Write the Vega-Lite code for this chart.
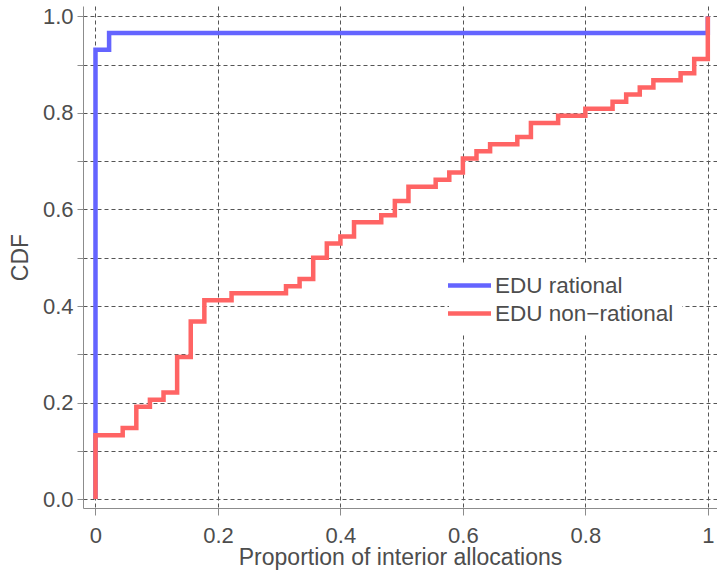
{
  "$schema": "https://vega.github.io/schema/vega-lite/v6.json",
  "width": 634,
  "height": 502,
  "autosize": "none",
  "padding": {"left": 83, "top": 6, "right": 0, "bottom": 62},
  "background": "white",
  "config": {
    "view": {"stroke": null},
    "font": "Liberation Sans",
    "axis": {
      "labelFont": "Liberation Sans",
      "titleFont": "Liberation Sans",
      "labelFontSize": 22,
      "titleFontSize": 23,
      "labelColor": "#4d4d4d",
      "titleColor": "#4d4d4d",
      "titleFontWeight": "normal",
      "domainColor": "#8c8c8c",
      "tickColor": "#8c8c8c",
      "tickSize": 6,
      "gridColor": "#555555",
      "gridDash": [4, 3],
      "gridOpacity": 1,
      "gridWidth": 1
    }
  },
  "datasets": {
    "cdf": [
      {"g": "EDU rational", "i": 0, "x": 0, "y": 0},
      {"g": "EDU rational", "i": 1, "x": 0, "y": 0.93103},
      {"g": "EDU rational", "i": 2, "x": 0.02222, "y": 0.96552},
      {"g": "EDU rational", "i": 3, "x": 1, "y": 1},
      {"g": "EDU non−rational", "i": 0, "x": 0, "y": 0},
      {"g": "EDU non−rational", "i": 1, "x": 0, "y": 0.13235},
      {"g": "EDU non−rational", "i": 2, "x": 0.04444, "y": 0.14706},
      {"g": "EDU non−rational", "i": 3, "x": 0.06667, "y": 0.19118},
      {"g": "EDU non−rational", "i": 4, "x": 0.08889, "y": 0.20588},
      {"g": "EDU non−rational", "i": 5, "x": 0.11111, "y": 0.22059},
      {"g": "EDU non−rational", "i": 6, "x": 0.13333, "y": 0.29412},
      {"g": "EDU non−rational", "i": 7, "x": 0.15556, "y": 0.36765},
      {"g": "EDU non−rational", "i": 8, "x": 0.17778, "y": 0.41176},
      {"g": "EDU non−rational", "i": 9, "x": 0.22222, "y": 0.42647},
      {"g": "EDU non−rational", "i": 10, "x": 0.31111, "y": 0.44118},
      {"g": "EDU non−rational", "i": 11, "x": 0.33333, "y": 0.45588},
      {"g": "EDU non−rational", "i": 12, "x": 0.35556, "y": 0.5},
      {"g": "EDU non−rational", "i": 13, "x": 0.37778, "y": 0.52941},
      {"g": "EDU non−rational", "i": 14, "x": 0.4, "y": 0.54412},
      {"g": "EDU non−rational", "i": 15, "x": 0.42222, "y": 0.57353},
      {"g": "EDU non−rational", "i": 16, "x": 0.46667, "y": 0.58824},
      {"g": "EDU non−rational", "i": 17, "x": 0.48889, "y": 0.61765},
      {"g": "EDU non−rational", "i": 18, "x": 0.51111, "y": 0.64706},
      {"g": "EDU non−rational", "i": 19, "x": 0.55556, "y": 0.66176},
      {"g": "EDU non−rational", "i": 20, "x": 0.57778, "y": 0.67647},
      {"g": "EDU non−rational", "i": 21, "x": 0.6, "y": 0.70588},
      {"g": "EDU non−rational", "i": 22, "x": 0.62222, "y": 0.72059},
      {"g": "EDU non−rational", "i": 23, "x": 0.64444, "y": 0.73529},
      {"g": "EDU non−rational", "i": 24, "x": 0.68889, "y": 0.75},
      {"g": "EDU non−rational", "i": 25, "x": 0.71111, "y": 0.77941},
      {"g": "EDU non−rational", "i": 26, "x": 0.75556, "y": 0.79412},
      {"g": "EDU non−rational", "i": 27, "x": 0.8, "y": 0.80882},
      {"g": "EDU non−rational", "i": 28, "x": 0.84444, "y": 0.82353},
      {"g": "EDU non−rational", "i": 29, "x": 0.86667, "y": 0.83824},
      {"g": "EDU non−rational", "i": 30, "x": 0.88889, "y": 0.85294},
      {"g": "EDU non−rational", "i": 31, "x": 0.91111, "y": 0.86765},
      {"g": "EDU non−rational", "i": 32, "x": 0.95556, "y": 0.88235},
      {"g": "EDU non−rational", "i": 33, "x": 0.97778, "y": 0.91176},
      {"g": "EDU non−rational", "i": 34, "x": 1, "y": 1}
    ]
  },
  "data": {"name": "cdf"},
  "encoding": {
    "x": {
      "field": "x",
      "type": "quantitative",
      "scale": {"domain": [-0.0204, 1.015], "nice": false, "zero": false},
      "axis": {
        "title": "Proportion of interior allocations",
        "values": [0, 0.2, 0.4, 0.6, 0.8, 1],
        "format": "~g",
        "tickSize": 7,
        "labelPadding": 10,
        "titlePadding": 0
      }
    },
    "y": {
      "field": "y",
      "type": "quantitative",
      "scale": {"domain": [-0.0186, 1.0217], "nice": false, "zero": false},
      "axis": {
        "title": "CDF",
        "values": [0, 0.1, 0.2, 0.3, 0.4, 0.5, 0.6, 0.7, 0.8, 0.9, 1],
        "labelExpr": "round(datum.value * 10) % 2 == 0 ? format(datum.value, '.1f') : ''",
        "labelPadding": 4,
        "titlePadding": 10
      }
    },
    "color": {
      "field": "g",
      "type": "nominal",
      "scale": {"domain": ["EDU rational", "EDU non−rational"], "range": ["#6464ff", "#ff6464"]},
      "legend": {
        "title": null,
        "orient": "none",
        "legendX": 366,
        "legendY": 259,
        "fillColor": "white",
        "padding": 8,
        "rowPadding": 4,
        "symbolType": "M-2.15,0H2.15",
        "symbolSize": 400,
        "symbolStrokeWidth": 4.5,
        "labelFontSize": 22.5,
        "labelFont": "Liberation Sans",
        "labelColor": "#4d4d4d",
        "labelOffset": 13,
        "labelLimit": 300
      }
    },
    "order": {"field": "i", "type": "quantitative"}
  },
  "layer": [
    {
      "transform": [{"filter": "datum.g == 'EDU rational'"}],
      "mark": {"type": "line", "interpolate": "step-after", "strokeWidth": 4.5}
    },
    {
      "transform": [{"filter": "datum.g != 'EDU rational'"}],
      "mark": {"type": "line", "interpolate": "step-after", "strokeWidth": 4.5}
    }
  ]
}
